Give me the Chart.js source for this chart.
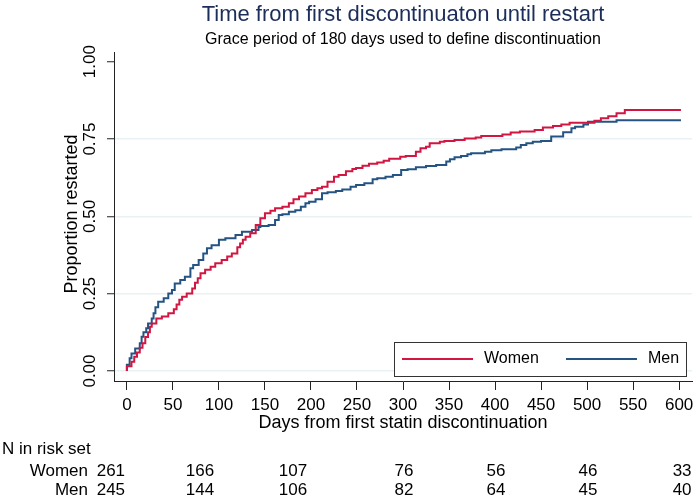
<!DOCTYPE html>
<html>
<head>
<meta charset="utf-8">
<script src="https://cdn.jsdelivr.net/npm/chart.js@4.4.1/dist/chart.umd.min.js"></script>
<style>
  html, body { margin: 0; padding: 0; background: #fff; }
</style>
</head>
<body>
<canvas id="km" width="697" height="499"></canvas>
<script>
// cumulative proportion restarted
const womenDays = [0, 5, 8, 11, 14, 17, 20, 23, 25, 27, 32, 38, 45, 51, 54, 57, 60, 65, 71, 74, 77, 80, 85, 91, 96, 103, 109, 114, 120, 123, 126, 129, 134, 140, 145, 150, 156, 161, 169, 176, 181, 187, 194, 201, 207, 212, 218, 225, 230, 238, 245, 249, 256, 263, 272, 279, 285, 297, 303, 314, 319, 325, 329, 340, 345, 356, 367, 379, 385, 408, 417, 427, 443, 452, 463, 472, 481, 508, 515, 523, 532, 541, 590, 602];
const womenProp = [0, 0.015, 0.03, 0.046, 0.06, 0.075, 0.09, 0.11, 0.125, 0.143, 0.154, 0.17, 0.176, 0.187, 0.2, 0.215, 0.23, 0.24, 0.251, 0.267, 0.285, 0.3, 0.316, 0.327, 0.337, 0.348, 0.359, 0.37, 0.38, 0.4, 0.412, 0.424, 0.434, 0.445, 0.472, 0.494, 0.51, 0.518, 0.526, 0.531, 0.542, 0.555, 0.564, 0.575, 0.585, 0.591, 0.596, 0.612, 0.628, 0.634, 0.646, 0.653, 0.656, 0.664, 0.67, 0.674, 0.68, 0.686, 0.693, 0.695, 0.709, 0.72, 0.725, 0.736, 0.741, 0.744, 0.747, 0.752, 0.755, 0.76, 0.765, 0.771, 0.774, 0.779, 0.787, 0.792, 0.797, 0.803, 0.809, 0.817, 0.824, 0.833, 0.844, 0.844];

const menDays = [0, 3, 5, 9, 14, 16, 18, 21, 23, 27, 29, 31, 34, 40, 45, 49, 52, 58, 63, 69, 72, 78, 83, 87, 92, 100, 107, 118, 125, 136, 143, 145, 154, 161, 165, 169, 176, 183, 189, 194, 198, 205, 212, 218, 227, 234, 243, 249, 258, 267, 272, 281, 289, 298, 305, 314, 325, 336, 347, 351, 356, 363, 370, 374, 389, 396, 407, 423, 428, 434, 441, 450, 461, 474, 483, 487, 496, 501, 532, 561, 602];
const menProp = [0, 0.02, 0.041, 0.057, 0.073, 0.09, 0.111, 0.125, 0.138, 0.154, 0.17, 0.187, 0.206, 0.224, 0.235, 0.251, 0.262, 0.283, 0.294, 0.305, 0.332, 0.343, 0.359, 0.38, 0.397, 0.407, 0.424, 0.429, 0.44, 0.45, 0.456, 0.466, 0.469, 0.472, 0.488, 0.504, 0.507, 0.515, 0.52, 0.531, 0.542, 0.547, 0.555, 0.575, 0.578, 0.582, 0.587, 0.596, 0.601, 0.607, 0.62, 0.623, 0.628, 0.634, 0.65, 0.652, 0.659, 0.663, 0.666, 0.677, 0.685, 0.691, 0.695, 0.701, 0.704, 0.709, 0.714, 0.717, 0.723, 0.731, 0.736, 0.741, 0.744, 0.758, 0.772, 0.785, 0.79, 0.797, 0.806, 0.811, 0.811];

const xTicks = [0, 50, 100, 150, 200, 250, 300, 350, 400, 450, 500, 550, 600];
const yTicks = [0, 0.25, 0.5, 0.75, 1];

const riskTimes = [0, 100, 200, 300, 400, 500, 600];
const womenAtRisk = [261, 166, 107, 76, 56, 46, 33];
const menAtRisk = [245, 144, 106, 82, 64, 45, 40];

const titleText = 'Time from first discontinuaton until restart';
const subtitleText = 'Grace period of 180 days used to define discontinuation';

const RED = '#d11641';
const BLUE = '#255483';
const GRID = '#e8f1f3';
const AXIS = '#222';
const FONT = '"Liberation Sans", Arial, sans-serif';

// little nudges so the risk-table numbers sit where Stata put them
const riskShift = [-16, -19, -18, 1, 1, 1, 3];

const toXY = (days, vals) => days.map((d, i) => ({ x: d, y: vals[i] }));

const textPlugin = {
  id: 'stataText',
  afterDraw(chart) {
    const { ctx, chartArea, scales } = chart;
    const xs = scales.x, ys = scales.y;
    const cx = (chartArea.left + chartArea.right) / 2;
    ctx.save();
    ctx.textBaseline = 'middle';
    ctx.textAlign = 'center';

    ctx.fillStyle = '#1c2d5a';
    ctx.font = `22px ${FONT}`;
    ctx.fillText(titleText, cx, 15);
    ctx.fillStyle = '#000';
    ctx.font = `16px ${FONT}`;
    ctx.fillText(subtitleText, cx, 40);

    // y tick labels + title, rotated
    ctx.font = `17px ${FONT}`;
    yTicks.forEach(v => {
      ctx.save();
      ctx.translate(90, ys.getPixelForValue(v));
      ctx.rotate(-Math.PI / 2);
      ctx.fillText(v.toFixed(2), 0, 0);
      ctx.restore();
    });
    ctx.save();
    ctx.translate(72, 214);
    ctx.rotate(-Math.PI / 2);
    ctx.font = `18px ${FONT}`;
    ctx.fillText('Proportion restarted', 0, 0);
    ctx.restore();

    // x tick labels + title
    ctx.font = `17px ${FONT}`;
    xTicks.forEach(d => ctx.fillText(String(d), xs.getPixelForValue(d), 405));
    ctx.font = `18px ${FONT}`;
    ctx.fillText('Days from first statin discontinuation', cx, 423);

    // legend box
    const lx = 394, ly = 342, lw = 292, lh = 34;
    ctx.fillStyle = '#fff';
    ctx.fillRect(lx, ly, lw, lh);
    ctx.strokeStyle = '#333';
    ctx.lineWidth = 1;
    ctx.strokeRect(lx + 0.5, ly + 0.5, lw, lh);
    ctx.lineWidth = 2;
    ctx.strokeStyle = RED;
    ctx.beginPath(); ctx.moveTo(402, 359); ctx.lineTo(473, 359); ctx.stroke();
    ctx.strokeStyle = BLUE;
    ctx.beginPath(); ctx.moveTo(566, 359); ctx.lineTo(637, 359); ctx.stroke();
    ctx.fillStyle = '#000';
    ctx.textAlign = 'left';
    ctx.font = `16px ${FONT}`;
    ctx.fillText('Women', 484, 359);
    ctx.fillText('Men', 648, 359);

    // number at risk table
    ctx.font = `17px ${FONT}`;
    ctx.fillText('N in risk set', 2, 449);
    ctx.textAlign = 'right';
    ctx.fillText('Women', 88, 471);
    ctx.fillText('Men', 88, 490);
    ctx.textAlign = 'center';
    riskTimes.forEach((t, i) => {
      const px = xs.getPixelForValue(t) + riskShift[i];
      ctx.fillText(String(womenAtRisk[i]), px, 471);
      ctx.fillText(String(menAtRisk[i]), px, 490);
    });
    ctx.restore();
  }
};

new Chart(document.getElementById('km'), {
  type: 'line',
  data: {
    datasets: [
      { label: 'Women', data: toXY(womenDays, womenProp), borderColor: RED, borderWidth: 2, stepped: 'after', pointRadius: 0, fill: false },
      { label: 'Men', data: toXY(menDays, menProp), borderColor: BLUE, borderWidth: 2, stepped: 'after', pointRadius: 0, fill: false }
    ]
  },
  options: {
    responsive: false,
    animation: false,
    events: [],
    layout: { padding: { left: 107, right: 5, top: 52, bottom: 109 } },
    plugins: { legend: { display: false }, title: { display: false }, tooltip: { enabled: false } },
    scales: {
      x: {
        type: 'linear',
        min: -14,
        max: 614,
        afterBuildTicks: s => { s.ticks = xTicks.map(v => ({ value: v })); },
        ticks: { display: false },
        grid: { drawOnChartArea: false, drawTicks: true, tickLength: 9, tickColor: AXIS, tickWidth: 1 },
        border: { display: true, color: AXIS, width: 1 }
      },
      y: {
        type: 'linear',
        min: -0.0323,
        max: 1.0314,
        afterBuildTicks: s => { s.ticks = yTicks.map(v => ({ value: v })); },
        ticks: { display: false },
        grid: {
          color: c => (c.tick && c.tick.value === 1 ? 'rgba(0,0,0,0)' : GRID),
          lineWidth: 1.5,
          tickLength: 7,
          tickColor: AXIS,
          tickWidth: 1
        },
        border: { display: true, color: AXIS, width: 1 }
      }
    }
  },
  plugins: [textPlugin]
});
</script>
</body>
</html>
